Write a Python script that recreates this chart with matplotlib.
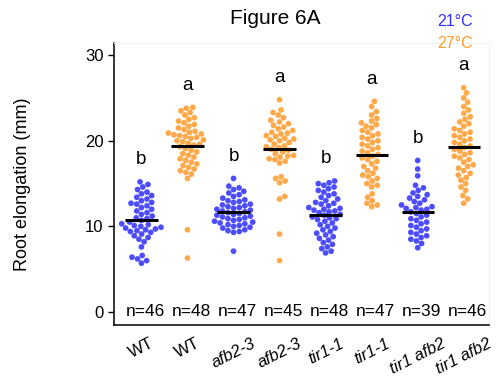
import numpy as np
import matplotlib
matplotlib.use("Agg")
import matplotlib.pyplot as plt

plt.rcParams['font.family'] = ['Liberation Sans', 'DejaVu Sans']

categories = ["WT", "WT", "afb2-3", "afb2-3", "tir1-1", "tir1-1", "tir1 afb2", "tir1 afb2"]
italic = [False, False, True, True, True, True, True, True]
temps = ["21°C", "27°C"] * 4
n_labels = ["n=46", "n=48", "n=47", "n=45", "n=48", "n=47", "n=39", "n=46"]
letters = ["b", "a", "b", "a", "b", "a", "b", "a"]

wt_21 = [15.2, 14.9, 14.6, 14.3, 14.0, 13.8, 13.6, 13.4, 13.2, 13.0, 12.8, 12.7, 12.6, 12.4, 12.2,
         12.0, 11.8, 11.6, 11.4, 11.2, 11.0, 10.9, 10.7, 10.5, 10.3, 10.2, 10.1, 10.0, 9.9, 9.8,
         9.7, 9.6, 9.5, 9.4, 9.3, 9.1, 8.9, 8.7, 8.5, 8.2, 7.6, 6.6, 6.4, 6.2, 6.0, 5.7]
wt_27 = [23.9, 23.8, 23.5, 23.3, 23.0, 22.7, 22.5, 22.3, 22.1, 21.9, 21.7, 21.5, 21.3, 21.1, 21.0,
         20.9, 20.8, 20.7, 20.6, 20.5, 20.4, 20.3, 20.1, 20.0, 19.9, 19.7, 19.6, 19.5, 19.3, 19.1,
         18.9, 18.7, 18.5, 18.3, 18.1, 17.9, 17.7, 17.5, 17.3, 17.1, 16.9, 16.7, 16.5, 16.3, 16.1,
         15.6, 9.6, 6.3]
afb_21 = [15.6, 14.7, 14.5, 14.3, 14.1, 13.9, 13.7, 13.5, 13.3, 13.1, 13.0, 12.9, 12.8, 12.6, 12.5,
          12.4, 12.3, 12.2, 12.1, 12.0, 11.9, 11.8, 11.7, 11.6, 11.5, 11.4, 11.3, 11.2, 11.1, 11.0,
          10.9, 10.8, 10.7, 10.6, 10.5, 10.4, 10.3, 10.2, 10.1, 10.0, 9.9, 9.8, 9.6, 9.5, 9.4, 9.3, 7.1]
afb_27 = [24.8, 23.6, 23.3, 23.0, 22.7, 22.4, 22.2, 22.0, 21.8, 21.6, 21.4, 21.2, 21.0, 20.9, 20.8,
          20.6, 20.5, 20.3, 20.1, 20.0, 19.8, 19.6, 19.4, 19.3, 19.2, 19.0, 18.9, 18.7, 18.5, 18.3,
          18.1, 17.9, 17.8, 17.6, 17.4, 15.8, 15.6, 15.3, 15.1, 13.5, 13.2, 9.1, 6.0, 18.2, 20.2]
tir_21 = [15.3, 15.1, 15.0, 14.8, 14.6, 14.4, 14.2, 14.0, 13.8, 13.6, 13.4, 13.2, 13.0, 12.8, 12.7,
          12.6, 12.4, 12.2, 12.1, 12.0, 11.9, 11.8, 11.7, 11.6, 11.4, 11.3, 11.1, 11.0, 10.9, 10.8,
          10.6, 10.4, 10.2, 10.0, 9.8, 9.6, 9.4, 9.2, 9.0, 8.8, 8.6, 8.4, 8.1, 7.9, 7.6, 7.4, 7.1, 6.9]
tir_27 = [24.6, 24.0, 23.4, 23.0, 22.6, 22.3, 22.1, 21.9, 21.7, 21.5, 21.2, 21.0, 20.8, 20.6, 20.4,
          20.2, 20.0, 19.8, 19.6, 19.4, 19.2, 19.0, 18.8, 18.6, 18.4, 18.2, 18.0, 17.8, 17.6, 17.3,
          17.0, 16.8, 16.5, 16.2, 16.0, 15.8, 15.6, 15.3, 15.0, 14.8, 14.6, 13.8, 13.4, 13.0, 12.7,
          12.5, 12.3]
ta_21 = [17.7, 16.7, 15.9, 14.8, 14.5, 14.2, 13.9, 13.7, 13.5, 13.3, 13.1, 12.9, 12.7, 12.5, 12.3,
         12.2, 12.1, 12.0, 11.9, 11.7, 11.5, 11.3, 11.1, 10.9, 10.7, 10.5, 10.3, 10.1, 9.9, 9.7,
         9.5, 9.3, 9.1, 8.9, 8.7, 8.5, 8.3, 8.0, 7.5]
ta_27 = [26.2, 25.6, 25.0, 24.5, 24.0, 23.6, 23.2, 22.8, 22.5, 22.2, 22.0, 21.7, 21.4, 21.2, 21.0,
         20.8, 20.6, 20.4, 20.2, 20.0, 19.8, 19.6, 19.4, 19.2, 19.0, 18.8, 18.6, 18.4, 18.2, 18.0,
         17.8, 17.5, 17.2, 17.0, 16.8, 16.5, 16.2, 16.0, 15.7, 15.4, 15.0, 14.6, 14.2, 13.6, 13.2,
         12.7]

groups = [wt_21, wt_27, afb_21, afb_27, tir_21, tir_27, ta_21, ta_27]
colors = {"21°C": "#2e2eff", "27°C": "#ff9a2a"}

W, H, DPI = 4.97, 3.89, 100
fig = plt.figure(figsize=(W, H), dpi=DPI)
ax = fig.add_axes([0.229, 0.165, 0.755, 0.724])
ax.set_xlim(-0.6, 7.55)
ax.set_ylim(-1.5, 31.4)

# pixel scales for beeswarm layout
ax_w_px = 0.755 * W * DPI
ax_h_px = 0.724 * H * DPI
px_per_x = ax_w_px / (7.55 + 0.6)
px_per_y = ax_h_px / (31.4 + 1.5)
d = 5.8  # collision spacing in px


def beeswarm(vals):
    vals = np.asarray(vals, float)
    order = np.argsort(vals)
    ys = vals[order] * px_per_y
    placed = []
    xs = np.zeros(len(vals))
    for k, i in enumerate(order):
        y = ys[k]
        cands = [0.0]
        for (px, py) in placed:
            dy = y - py
            if abs(dy) < d:
                dx = np.sqrt(d * d - dy * dy)
                cands += [px + dx, px - dx]
        cands = sorted(cands, key=abs)
        for c in cands:
            ok = True
            for (px, py) in placed:
                if (c - px) ** 2 + (y - py) ** 2 < d * d - 1e-6:
                    ok = False
                    break
            if ok:
                xs[i] = c
                placed.append((c, y))
                break
    return xs / px_per_x


for i, vals in enumerate(groups):
    offs = beeswarm(vals)
    ax.scatter(i + offs, vals, s=17, color=colors[temps[i]], alpha=0.85,
               edgecolors='none', zorder=2)
    m = np.mean(vals)
    ax.plot([i - 0.35, i + 0.35], [m, m], color='black', lw=2.2, zorder=3,
            solid_capstyle='butt')
    ax.text(i, max(vals) + 2.6, letters[i], ha='center', va='center', fontsize=13.5)
    ax.text(i + 0.08, 0, n_labels[i], ha='center', va='center', fontsize=12.5)

ax.set_xticks(range(len(categories)))
ax.set_xticklabels(categories, rotation=27, ha='center', fontsize=12)
for lab, it in zip(ax.get_xticklabels(), italic):
    if it:
        lab.set_style('italic')
ax.tick_params(axis='x', length=0, pad=8)
ax.set_yticks([0, 10, 20, 30])
ax.tick_params(axis='y', labelsize=12, length=4, width=1)
ax.set_ylabel("Root elongation (mm)", fontsize=13)
ax.yaxis.set_label_coords(-0.222, 0.5)

for s in ['top', 'right']:
    ax.spines[s].set_color('#f2f2f2')
    ax.spines[s].set_linewidth(0.8)
ax.spines['left'].set_linewidth(1.1)
ax.spines['bottom'].set_linewidth(1.1)

fig.text(0.553, 0.953, "Figure 6A", ha='center', va='center', fontsize=15)
fig.text(0.952, 0.944, "21°C", ha='right', va='center', fontsize=11.5, color=colors["21°C"])
fig.text(0.952, 0.888, "27°C", ha='right', va='center', fontsize=11.5, color=colors["27°C"])

fig.savefig("out.png", dpi=DPI)
